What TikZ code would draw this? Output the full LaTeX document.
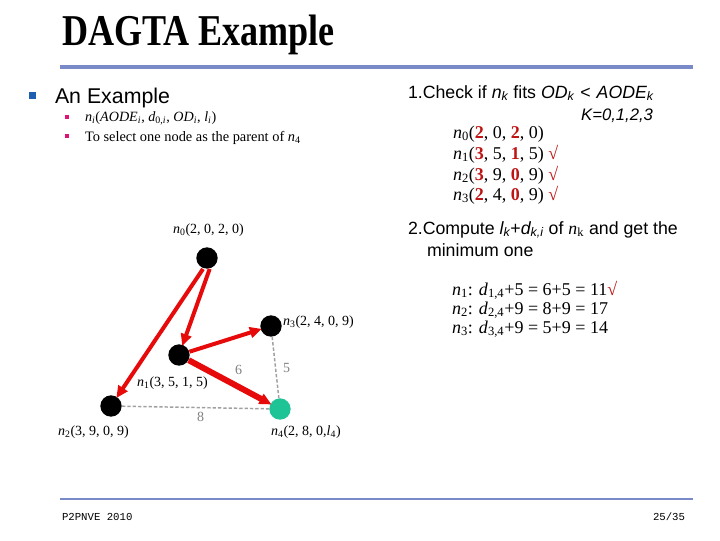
\documentclass[tikz,border=0pt]{standalone}
\usepackage{fontspec}
\setmainfont{Liberation Serif}
\setsansfont{Liberation Sans}
\setmonofont{Liberation Mono}
\usetikzlibrary{arrows.meta}
\definecolor{rulecol}{RGB}{122,138,200}
\definecolor{bulblue}{RGB}{30,95,175}
\definecolor{bulpink}{RGB}{220,20,120}
\definecolor{numred}{RGB}{190,20,20}
\definecolor{edgered}{RGB}{230,10,10}
\definecolor{nodegreen}{RGB}{30,195,150}
\definecolor{dashgrey}{RGB}{160,160,160}
\newcommand\nk[1]{\textit{n}\textsubscript{#1}}
\newcommand\rd[1]{\textcolor{numred}{\textbf{#1}}}
\newcommand\ck{\textcolor{numred}{√}}
\tikzset{
  txt/.style={anchor=base west, inner sep=0pt, outer sep=0pt},
  lbl/.style={txt, font=\fontsize{10.5}{12}\selectfont},
  blk/.style={circle, fill=black, minimum size=16pt, inner sep=0pt},
  grn/.style={circle, fill=nodegreen, minimum size=16pt, inner sep=0pt},
  redarrow/.style={draw=edgered, line width=3pt, -{Triangle[length=9pt,width=8pt]}, shorten >=-1pt},
  dashline/.style={draw=dashgrey, line width=1.1pt, dash pattern=on 2.5pt off 1.5pt},
  elbl/.style={txt, text=gray, font=\fontsize{10.5}{12}\selectfont},
  steptxt/.style={txt, font=\sffamily\fontsize{13.3}{15}\selectfont},
}
\begin{document}
\begin{tikzpicture}[x=0.75pt,y=-0.75pt]
\useasboundingbox (0,0) rectangle (720,540);
% title
\node[txt] (title) at (62,45) {\scalebox{0.82}[1]{\fontsize{33}{36}\selectfont\bfseries DAGTA Example}};
\draw[rulecol, line width=2.4pt] (60,67) -- (693,67);
% bullets
\fill[bulblue] (29,92) rectangle (36,99);
\node[txt, font=\sffamily\fontsize{16}{18}\selectfont] (ex) at (55,103) {An Example};
\fill[bulpink] (65,115) rectangle (69,119);
\fill[bulpink] (65,134) rectangle (69,138);
\node[txt, font=\fontsize{10.6}{12}\selectfont] (b1) at (85,121) {\textit{n}\textsubscript{\textit{i}}(\textit{AODE}\textsubscript{\textit{i}}, \textit{d}\textsubscript{0,\textit{i}}, \textit{OD}\textsubscript{\textit{i}}, \textit{l}\textsubscript{\textit{i}})};
\node[txt, font=\fontsize{10.8}{12}\selectfont] (b2) at (85,141) {To select one node as the parent of \textit{n}\textsubscript{4}};
% step 1
\node[steptxt] (s1) at (408,98) {1.Check if \textit{n\textsubscript{k}} fits \textit{OD\textsubscript{k}}\,\,<\,\,\textit{AODE\textsubscript{k}}};
\node[txt, anchor=base east, font=\sffamily\itshape\fontsize{12.5}{14}\selectfont] (kk) at (653,120) {K=0,1,2,3};
\begin{scope}[every node/.style={txt, font=\fontsize{13.5}{15}\selectfont}]
\node (l0) at (453,138) {\nk{0}(\rd{2}, 0, \rd{2}, 0)};
\node (l1) at (453,159) {\nk{1}(\rd{3}, 5, \rd{1}, 5) \ck};
\node (l2) at (453,180) {\nk{2}(\rd{3}, 9, \rd{0}, 9) \ck};
\node (l3) at (453,200) {\nk{3}(\rd{2}, 4, \rd{0}, 9) \ck};
\end{scope}
% step 2
\node[steptxt] (s2) at (408,234) {2.Compute \textit{l\textsubscript{k}}+\textit{d\textsubscript{k,i}} of {\rmfamily\textit{n}\textsubscript{k}} and get the};
\node[steptxt] (s2b) at (427,256) {minimum one};
\begin{scope}[every node/.style={txt, font=\fontsize{13.5}{15}\selectfont}]
\node (e1) at (452,295) {\nk{1}: \textit{d}\textsubscript{1,4}+5 = 6+5 = 11\ck};
\node (e2) at (452,314) {\nk{2}: \textit{d}\textsubscript{2,4}+9 = 8+9 = 17};
\node (e3) at (452,333) {\nk{3}: \textit{d}\textsubscript{3,4}+9 = 5+9 = 14};
\end{scope}
% graph nodes
\node[blk] (n0) at (207,258) {};
\node[blk] (n1) at (179,355) {};
\node[blk] (n2) at (111,406) {};
\node[blk] (n3) at (271,326) {};
\node[grn] (n4) at (280,409) {};
% node labels
\node[lbl] (ln0) at (173,233) {\nk{0}(2, 0, 2, 0)};
\node[lbl] (ln3) at (283,325) {\nk{3}(2, 4, 0, 9)};
\node[lbl] (ln1) at (137,386) {\nk{1}(3, 5, 1, 5)};
\node[lbl] (ln2) at (58,435) {\nk{2}(3, 9, 0, 9)};
\node[lbl] (ln4) at (271,435) {\nk{4}(2, 8, 0,\textit{l}\textsubscript{4})};
% dashed
\draw[dashline] (n2) -- (n4);
\draw[dashline] (n3) -- (n4);
\node[elbl] (d8) at (197,421) {8};
\node[elbl] (d5) at (283,372) {5};
\node[elbl] (d6) at (235,374) {6};
% red edges
\draw[redarrow] ([xshift=-3pt]n0.south) -- (n2);
\draw[redarrow] ([xshift=2pt]n0.south) -- (n1);
\draw[redarrow] (n1) -- (n3);
\draw[redarrow, line width=4.5pt] (n1) -- (n4);
% footer
\draw[rulecol, line width=1.6pt] (60,499) -- (693,499);
\node[txt, font=\ttfamily\fontsize{8}{9}\selectfont] (f1) at (62,520) {P2PNVE 2010};
\node[txt, anchor=base east, font=\ttfamily\fontsize{8}{9}\selectfont] (f2) at (685,520) {25/35};
\end{tikzpicture}
\end{document}
